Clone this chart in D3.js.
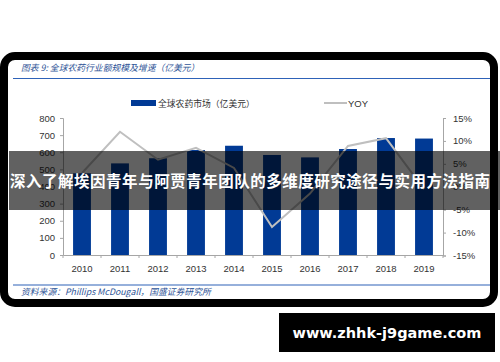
<!DOCTYPE html>
<html><head><meta charset="utf-8">
<script src="https://cdn.jsdelivr.net/npm/d3@7"></script>
<style>html,body{margin:0;padding:0;background:#fff;}svg{display:block;}</style>
</head><body>
<script>
const years = ["2010","2011","2012","2013","2014","2015","2016","2017","2018","2019"];
const market = [477, 535, 565, 613, 638, 584, 570, 619, 683, 680];
const yoy = [0.03, 0.12, 0.059, 0.085, 0.041, -0.088, -0.015, 0.089, 0.106, -0.005];
const leftTicks = [0,100,200,300,400,500,600,700,800];
const rightTicks = [-0.15,-0.10,-0.05,0,0.05,0.10,0.15];
const titleText = "图表 9:  全球农药行业额规模及增速（亿美元）";
const sourceText = "资料来源：Phillips McDougall，国盛证券研究所";
const legendBar = "全球农药市场（亿美元）";
const legendLine = "YOY";
const bannerText = "深入了解埃因青年与阿贾青年团队的多维度研究途径与实用方法指南";
const siteText = "www.zhhk-j9game.com";

const W = 500, H = 362;
const svg = d3.select("body").append("svg").attr("width", W).attr("height", H);
svg.append("rect").attr("width", W).attr("height", H).attr("fill", "#fff");

// frame
svg.append("rect").attr("x", 4).attr("y", 56).attr("width", 490).attr("height", 247)
  .attr("rx", 11).attr("fill", "#fff").attr("stroke", "#000").attr("stroke-width", 8);

const blue = "#2f5597";
const cjk = "'Noto Sans CJK SC', sans-serif";
// title
svg.append("text").attr("x", 21).attr("y", 71).attr("font-family", cjk).attr("font-size", 8.8)
  .attr("font-style", "italic").attr("fill", blue).text(titleText);
svg.append("line").attr("x1", 13).attr("x2", 490).attr("y1", 78.5).attr("y2", 78.5)
  .attr("stroke", "#2e62b8").attr("stroke-width", 1.2);

// source
svg.append("line").attr("x1", 13).attr("x2", 490).attr("y1", 285).attr("y2", 285)
  .attr("stroke", "#2e62b8").attr("stroke-width", 1.2);
svg.append("text").attr("x", 21).attr("y", 295).attr("font-family", cjk).attr("font-size", 8.8)
  .attr("font-style", "italic").attr("fill", blue).text(sourceText);

// scales
const x = d3.scaleBand().domain(years).range([63, 443]).paddingInner(0.53).paddingOuter(0.265);
const yL = d3.scaleLinear().domain([0, 800]).range([255, 118]);
const yR = d3.scaleLinear().domain([-0.15, 0.15]).range([255.5, 118]);

const axisColor = "#a6a6a6";
const tickFont = "'Liberation Sans', Arial, sans-serif";

// left axis
const gL = svg.append("g").attr("transform", "translate(63,0)")
  .call(d3.axisLeft(yL).tickValues(leftTicks).tickSize(3).tickPadding(5).tickFormat(d3.format("d")));
// right axis
const gR = svg.append("g").attr("transform", "translate(443,0)")
  .call(d3.axisRight(yR).tickValues(rightTicks).tickSize(3).tickPadding(7).tickFormat(d => Math.round(d*100) + "%"));
// x axis
const gX = svg.append("g").attr("transform", "translate(0,255)")
  .call(d3.axisBottom(x).tickSize(0).tickPadding(10));
[gL, gR, gX].forEach(g => {
  g.select(".domain").attr("stroke", axisColor);
  g.selectAll(".tick line").attr("stroke", axisColor);
  g.selectAll("text").attr("font-family", tickFont).attr("font-size", 9.5).attr("fill", "#333");
});
// category boundary ticks on x axis
const bounds = d3.range(years.length + 1).map(i => x.range()[0] + i * x.step());
svg.append("g").selectAll("line").data(bounds).join("line")
  .attr("x1", d => d).attr("x2", d => d).attr("y1", 255).attr("y2", 258)
  .attr("stroke", axisColor);

// bars
svg.append("g").selectAll("rect").data(market).join("rect")
  .attr("x", (d, i) => x(years[i])).attr("width", x.bandwidth())
  .attr("y", d => yL(d)).attr("height", d => yL(0) - yL(d))
  .attr("fill", "#013a95");

// yoy line
const line = d3.line().x((d, i) => x(years[i]) + x.bandwidth() / 2).y(d => yR(d));
svg.append("path").datum(yoy).attr("d", line).attr("fill", "none")
  .attr("stroke", "#bfbfbf").attr("stroke-width", 2);

// legend
svg.append("rect").attr("x", 131).attr("y", 100).attr("width", 25).attr("height", 6).attr("fill", "#013a95");
svg.append("text").attr("x", 158).attr("y", 106.5).attr("font-family", cjk).attr("font-size", 8.8)
  .attr("fill", "#333").text(legendBar);
svg.append("line").attr("x1", 324).attr("x2", 347).attr("y1", 103).attr("y2", 103)
  .attr("stroke", "#bfbfbf").attr("stroke-width", 2);
svg.append("text").attr("x", 348).attr("y", 106.5).attr("font-family", tickFont).attr("font-size", 9.5)
  .attr("fill", "#333").text(legendLine);

// banner overlay
svg.append("rect").attr("x", 9).attr("y", 151).attr("width", 491).attr("height", 59)
  .attr("fill", "rgba(0,0,0,0.62)");
svg.append("text").attr("x", 250).attr("y", 186.5).attr("text-anchor", "middle")
  .attr("font-family", cjk).attr("font-weight", "bold").attr("font-size", 15.5)
  .attr("textLength", 480).attr("lengthAdjust", "spacing")
  .attr("fill", "#fff").text(bannerText);

// watermark box
svg.append("rect").attr("x", 279).attr("y", 313).attr("width", 216).attr("height", 39).attr("fill", "#000");
svg.append("text").attr("x", 387).attr("y", 338).attr("text-anchor", "middle")
  .attr("font-family", "'DejaVu Sans', sans-serif").attr("font-weight", "bold").attr("font-size", 14.5)
  .attr("fill", "#fff").text(siteText);
</script>
</body></html>
